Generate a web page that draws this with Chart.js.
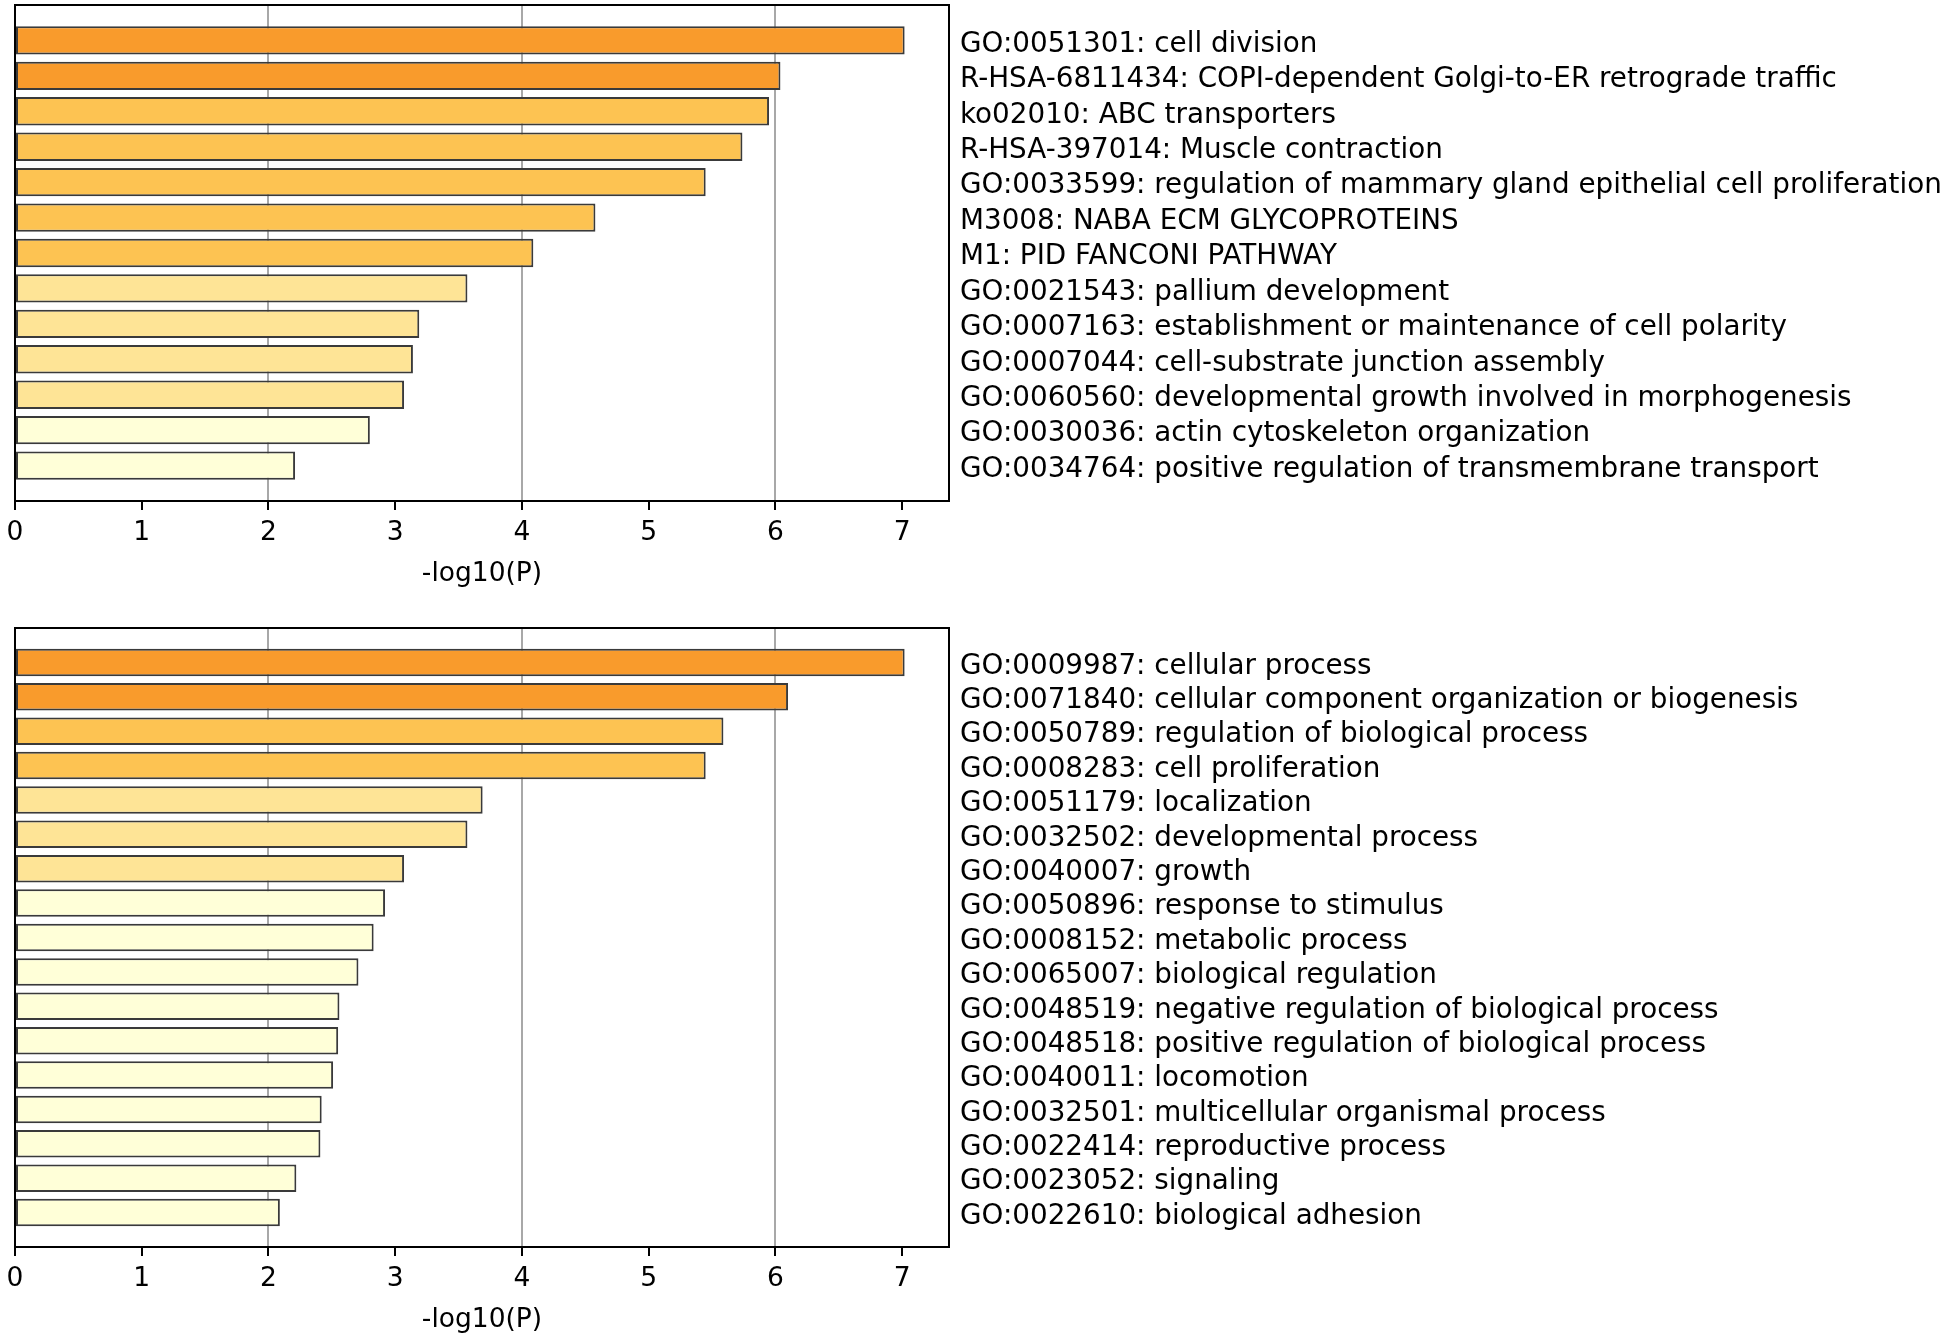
<!DOCTYPE html>
<html>
<head>
<meta charset="utf-8">
<title>Enrichment bars</title>
<script src="https://cdn.jsdelivr.net/npm/chart.js@4.4.1/dist/chart.umd.min.js"></script>
<style>
    html, body { margin: 0; padding: 0; background: #fff; }
    #wrap { position: relative; width: 1950px; height: 1339px; }
    .panel { position: absolute; left: 0; width: 1950px; }
</style>
</head>
<body>
<div id="wrap">
    <div class="panel" style="top:0; height:593px;"><canvas id="topChart"></canvas></div>
    <div class="panel" style="top:623px; height:716px;"><canvas id="bottomChart"></canvas></div>
</div>
<script>
// Top panel: enriched terms
const topLabels = [
    'GO:0051301: cell division',
    'R-HSA-6811434: COPI-dependent Golgi-to-ER retrograde traffic',
    'ko02010: ABC transporters',
    'R-HSA-397014: Muscle contraction',
    'GO:0033599: regulation of mammary gland epithelial cell proliferation',
    'M3008: NABA ECM GLYCOPROTEINS',
    'M1: PID FANCONI PATHWAY',
    'GO:0021543: pallium development',
    'GO:0007163: establishment or maintenance of cell polarity',
    'GO:0007044: cell-substrate junction assembly',
    'GO:0060560: developmental growth involved in morphogenesis',
    'GO:0030036: actin cytoskeleton organization',
    'GO:0034764: positive regulation of transmembrane transport'
];
const topValues = [7.02, 6.04, 5.95, 5.74, 5.45, 4.58, 4.09, 3.57, 3.19, 3.14, 3.07, 2.80, 2.21];

// Bottom panel: GO parent terms
const bottomLabels = [
    'GO:0009987: cellular process',
    'GO:0071840: cellular component organization or biogenesis',
    'GO:0050789: regulation of biological process',
    'GO:0008283: cell proliferation',
    'GO:0051179: localization',
    'GO:0032502: developmental process',
    'GO:0040007: growth',
    'GO:0050896: response to stimulus',
    'GO:0008152: metabolic process',
    'GO:0065007: biological regulation',
    'GO:0048519: negative regulation of biological process',
    'GO:0048518: positive regulation of biological process',
    'GO:0040011: locomotion',
    'GO:0032501: multicellular organismal process',
    'GO:0022414: reproductive process',
    'GO:0023052: signaling',
    'GO:0022610: biological adhesion'
];
const bottomValues = [7.02, 6.10, 5.59, 5.45, 3.69, 3.57, 3.07, 2.92, 2.83, 2.71, 2.56, 2.55, 2.51, 2.42, 2.41, 2.22, 2.09];

// x axis
const xTicks = [0, 1, 2, 3, 4, 5, 6, 7];
const xGridLines = [2, 4, 6];
const xMax = 7.37;

const FONT = 'DejaVu Sans';

// colour bins by -log10(P)
function barColor(v) {
    if (v === null) return 'rgba(0,0,0,0)';
    if (v >= 6) return '#F99B2C';
    if (v >= 4) return '#FDC352';
    if (v >= 3) return '#FEE496';
    return '#FFFFD8';
}

// no extra room for overhanging labels, the box is fixed
function noPadding(scale) {
    scale.paddingTop = 0;
    scale.paddingBottom = 0;
    scale.paddingLeft = 0;
    scale.paddingRight = 0;
}

function makeChart(canvasId, labels, values) {
    // pad half a slot above and below the bars
    const padLabels = [''].concat(labels, ['']);
    const padValues = [null].concat(values, [null]);

    return new Chart(document.getElementById(canvasId), {
        type: 'bar',
        data: {
            labels: padLabels,
            datasets: [{
                data: padValues,
                backgroundColor: padValues.map(barColor),
                borderColor: '#3a3a3a',
                borderWidth: 2,
                borderSkipped: false,
                barPercentage: 0.8,
                categoryPercentage: 1.0,
                xAxisID: 'x',
                yAxisID: 'y'
            }]
        },
        options: {
            indexAxis: 'y',
            responsive: true,
            maintainAspectRatio: false,
            animation: false,
            devicePixelRatio: 1,
            layout: { padding: 0 },
            plugins: {
                legend: { display: false },
                tooltip: { enabled: false }
            },
            scales: {
                x: {
                    type: 'linear',
                    position: 'bottom',
                    min: 0,
                    max: xMax,
                    afterBuildTicks: scale => {
                        scale.ticks = xTicks.map(v => ({ value: v }));
                    },
                    ticks: {
                        includeBounds: false,
                        autoSkip: false,
                        maxRotation: 0,
                        color: '#000',
                        padding: 7,
                        font: { family: FONT, size: 26.5 }
                    },
                    grid: {
                        color: ctx => xGridLines.includes(ctx.tick.value) ? '#a8a8a8' : 'rgba(0,0,0,0)',
                        lineWidth: 2,
                        tickColor: '#000',
                        tickLength: 9,
                        tickWidth: 2
                    },
                    border: { display: true, color: '#000', width: 2 },
                    title: {
                        display: true,
                        text: '-log10(P)',
                        color: '#000',
                        font: { family: FONT, size: 26.5 },
                        padding: { top: 0, bottom: 3 }
                    },
                    afterFit: scale => { noPadding(scale); scale.height = 92; }
                },
                xTop: {
                    type: 'linear',
                    position: 'top',
                    min: 0,
                    max: xMax,
                    ticks: { display: false },
                    grid: { display: false, drawTicks: false },
                    border: { display: true, color: '#000', width: 2 },
                    afterFit: scale => { noPadding(scale); scale.height = 5; }
                },
                y: {
                    type: 'category',
                    position: 'left',
                    offset: false,
                    ticks: { display: false },
                    grid: { display: false, drawTicks: false },
                    border: { display: true, color: '#000', width: 2 },
                    afterFit: scale => { noPadding(scale); scale.width = 15; }
                },
                yRight: {
                    type: 'category',
                    position: 'right',
                    labels: padLabels,
                    offset: false,
                    ticks: {
                        autoSkip: false,
                        color: '#000',
                        padding: 11,
                        labelOffset: 4,
                        font: { family: FONT, size: 27.8 }
                    },
                    grid: { display: false, drawTicks: false },
                    border: { display: true, color: '#000', width: 2 },
                    afterFit: scale => { noPadding(scale); scale.width = 1001; }
                }
            }
        }
    });
}

const topChart = makeChart('topChart', topLabels, topValues);
const bottomChart = makeChart('bottomChart', bottomLabels, bottomValues);
</script>
</body>
</html>
